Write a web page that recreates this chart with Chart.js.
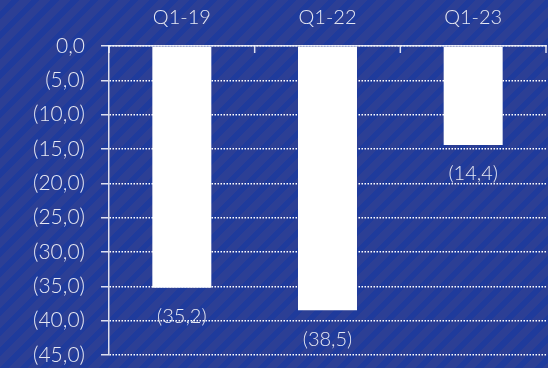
<!DOCTYPE html>
<html lang="en">
<head>
<meta charset="UTF-8">
<title>Chart</title>
<style>
  html, body { margin: 0; padding: 0; }
  body {
    width: 548px; height: 368px; overflow: hidden;
    background-color: #2c3f95;
    background-image: repeating-linear-gradient(135deg, #2c3f95 0px, #2c3f95 8px, #1f3b9c 8px, #1f3b9c 14px);
  }
  .wrap { position: relative; width: 548px; height: 368px; }
</style>
</head>
<body>
<div class="wrap"><canvas id="chart"></canvas></div>
<script src="https://cdn.jsdelivr.net/npm/chart.js"></script>
<script>
  const categories = ['Q1-19', 'Q1-22', 'Q1-23'];
  const values = [-35.2, -38.5, -14.4];
  const valueLabels = ['(35,2)', '(38,5)', '(14,4)'];
  const yTickLabels = ['(45,0)', '(40,0)', '(35,0)', '(30,0)', '(25,0)', '(20,0)', '(15,0)', '(10,0)', '(5,0)', '0,0'];

  const textColor = 'rgba(240,241,248,0.95)';
  const lineColor = 'rgba(240,241,248,0.9)';
  const fontFamily = 'Lato, "Open Sans", sans-serif';
  const fontSize = 20;

  // small ticks pointing down into the plot at category boundaries
  const boundaryTicks = {
    id: 'boundaryTicks',
    afterDraw(chart) {
      const x = chart.scales.x;
      const ctx = chart.ctx;
      const top = chart.chartArea.top;
      const step = x.getPixelForValue(1) - x.getPixelForValue(0);
      ctx.save();
      ctx.strokeStyle = lineColor;
      ctx.lineWidth = 1.5;
      for (let i = 0; i <= categories.length; i++) {
        const px = x.getPixelForValue(0) - step / 2 + i * step;
        ctx.beginPath();
        ctx.moveTo(px, top);
        ctx.lineTo(px, top + 7);
        ctx.stroke();
      }
      ctx.restore();
    }
  };

  const barLabels = {
    id: 'barLabels',
    afterDatasetsDraw(chart) {
      const ctx = chart.ctx;
      const meta = chart.getDatasetMeta(0);
      ctx.save();
      ctx.fillStyle = textColor;
      ctx.font = '300 ' + fontSize + 'px ' + fontFamily;
      ctx.textAlign = 'center';
      ctx.textBaseline = 'middle';
      meta.data.forEach((bar, i) => {
        ctx.fillText(valueLabels[i], bar.x, bar.y + 29);
      });
      ctx.restore();
    }
  };

  new Chart(document.getElementById('chart'), {
    type: 'bar',
    data: {
      labels: categories,
      datasets: [{
        data: values,
        backgroundColor: '#ffffff',
        borderWidth: 0,
        barPercentage: 0.405,
        categoryPercentage: 1
      }]
    },
    options: {
      responsive: true,
      maintainAspectRatio: false,
      animation: false,
      layout: { padding: { top: 0, right: 2, bottom: 13, left: 0 } },
      plugins: { legend: { display: false }, tooltip: { enabled: false } },
      scales: {
        x: {
          position: 'top',
          afterFit: s => { s.height = 46; },
          grid: { display: false, drawTicks: false },
          border: { display: true, color: lineColor, width: 1.5 },
          ticks: {
            color: textColor,
            font: { family: fontFamily, size: fontSize, weight: 300 },
            padding: 16
          }
        },
        y: {
          min: -45,
          max: 0,
          afterFit: s => {
            s.width = 109;
            s.paddingTop = 0;
            s.paddingBottom = 0;
          },
          grid: {
            color: '#ffffff',
            lineWidth: 1.5,
            tickLength: 8,
            tickColor: lineColor,
            tickWidth: 1.5,
            tickBorderDash: []
          },
          border: { display: true, color: lineColor, width: 1.5, dash: [1.5, 1.5] },
          ticks: {
            stepSize: 5,
            color: textColor,
            padding: 16,
            font: { family: fontFamily, size: 21, weight: 300 },
            callback: (v, i) => yTickLabels[i]
          }
        }
      }
    },
    plugins: [boundaryTicks, barLabels]
  });
</script>
</body>
</html>
